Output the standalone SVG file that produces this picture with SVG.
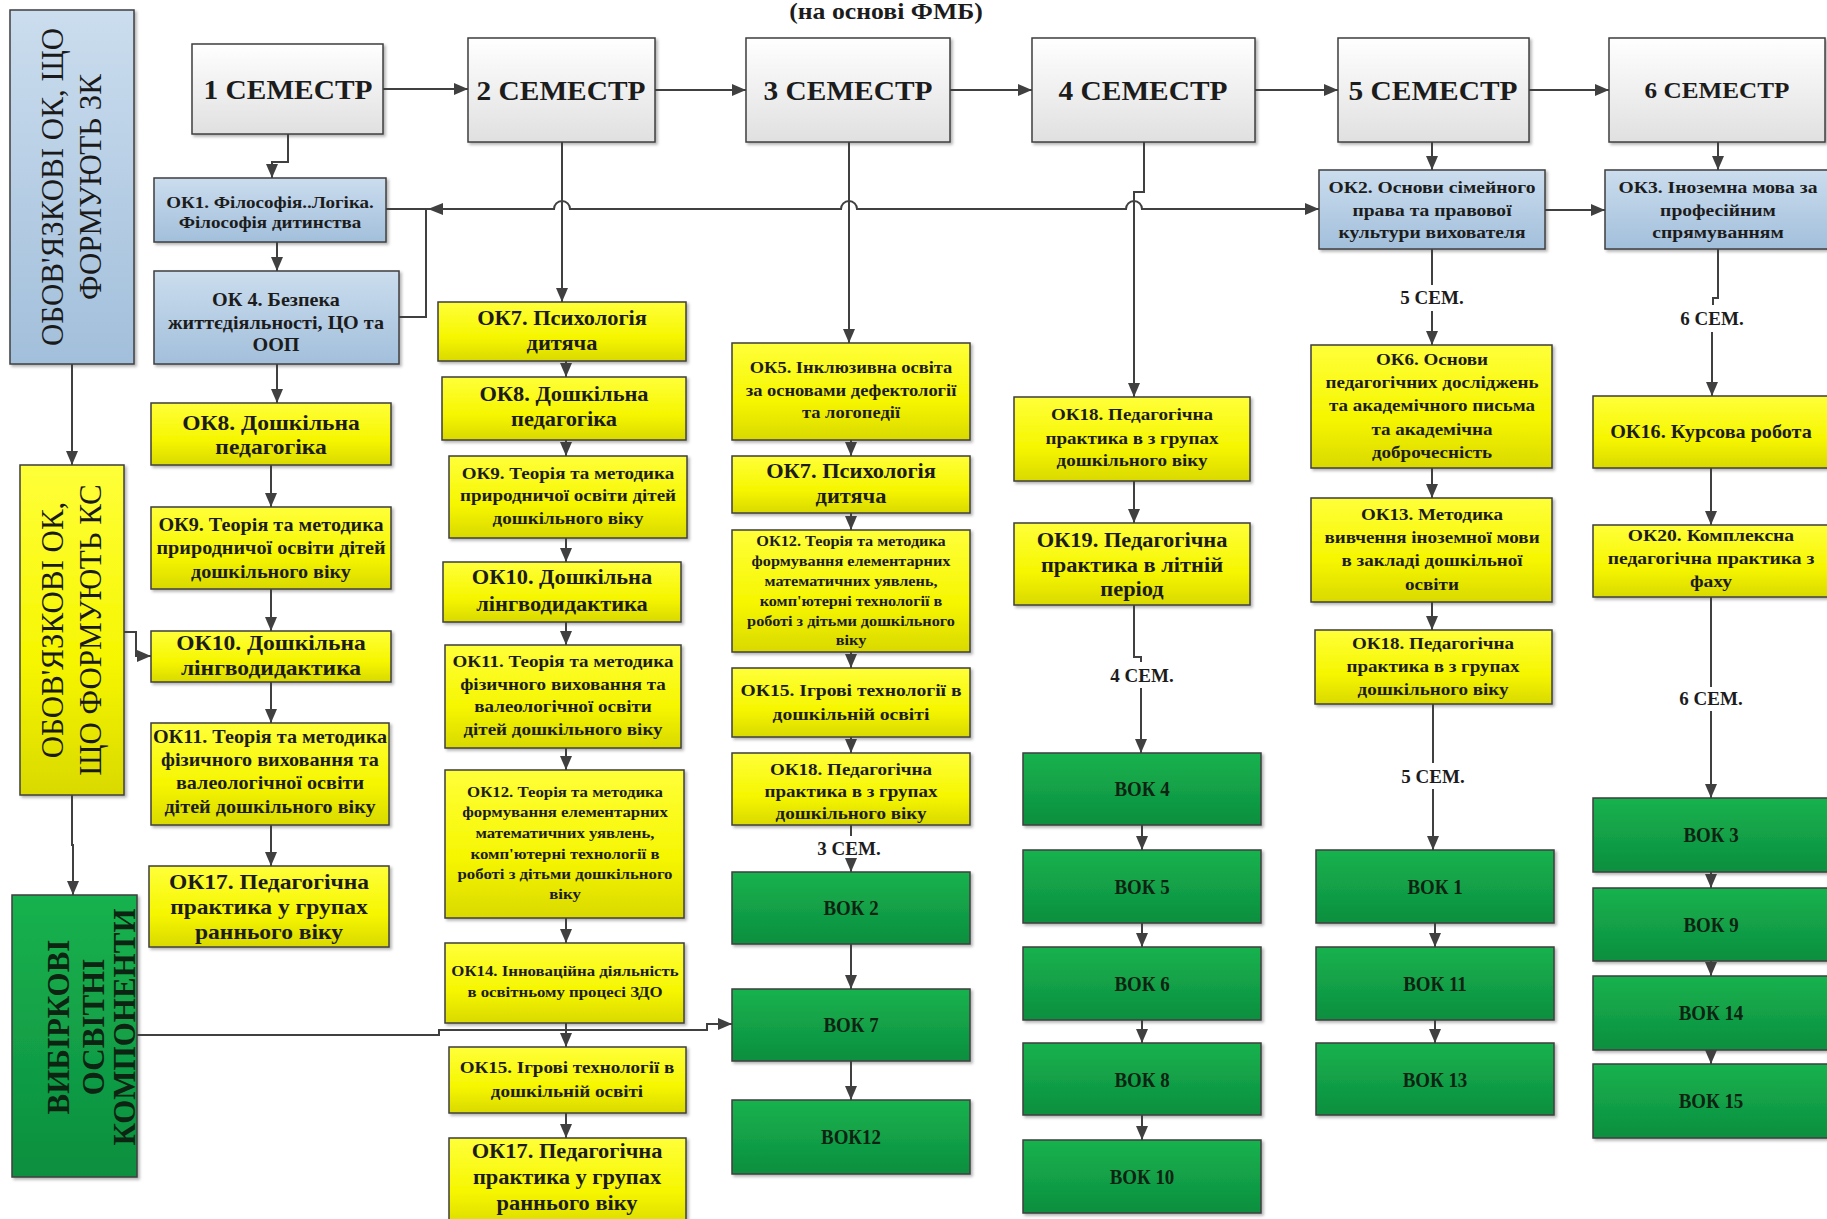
<svg xmlns="http://www.w3.org/2000/svg" width="1827" height="1219" viewBox="0 0 1827 1219">
<defs>
<linearGradient id="gSem" x1="0" y1="0" x2="0" y2="1"><stop offset="0" stop-color="#ffffff"/><stop offset="1" stop-color="#e0e0e0"/></linearGradient>
<linearGradient id="gBlue" x1="0" y1="0" x2="0" y2="1"><stop offset="0" stop-color="#cbddee"/><stop offset="1" stop-color="#a2bfdb"/></linearGradient>
<linearGradient id="gYel" x1="0" y1="0" x2="0" y2="1"><stop offset="0" stop-color="#ffff3a"/><stop offset="0.6" stop-color="#f6f600"/><stop offset="1" stop-color="#d9d900"/></linearGradient>
<linearGradient id="gGrn" x1="0" y1="0" x2="0" y2="1"><stop offset="0" stop-color="#18b24f"/><stop offset="1" stop-color="#0c8f3f"/></linearGradient>
<filter id="sh" x="-10%" y="-10%" width="130%" height="130%"><feDropShadow dx="2" dy="2" stdDeviation="1.5" flood-color="#000" flood-opacity="0.3"/></filter>
<marker id="ah" markerUnits="userSpaceOnUse" markerWidth="14" markerHeight="14" viewBox="0 0 14 14" refX="14" refY="7" orient="auto"><path d="M0,1 L14,7 L0,13 z" fill="#404040"/></marker>
</defs>
<style>
.box{stroke:#3f3f3f;stroke-width:1.5;filter:url(#sh)}
.sem{fill:url(#gSem)}
.blue{fill:url(#gBlue)}
.yel{fill:url(#gYel)}
.grn{fill:url(#gGrn)}
text{font-family:"Liberation Serif","Times New Roman",serif;font-weight:bold;fill:#1c1c1c;text-anchor:middle}
.rot{font-weight:normal;font-size:31px;fill:#1a1a1a}
.gt{fill:#0d2412}
.lbl{font-size:19px}
.c{stroke:#404040;stroke-width:2;fill:none}
.a{marker-end:url(#ah)}
</style>
<rect width="1827" height="1219" fill="#ffffff"/>
<text x="0" y="19" font-size="23" transform="translate(886 0) scale(1.12 1)">(на основі ФМБ)</text>

<!-- tall category boxes -->
<g id="cat-zk"><rect class="box blue" x="10" y="10" width="124" height="354"/>
<text class="rot" transform="translate(72 187) rotate(-90)"><tspan x="0" y="-9">ОБОВ'ЯЗКОВІ ОК, ЩО</tspan><tspan x="0" y="29">ФОРМУЮТЬ ЗК</tspan></text></g>
<g id="cat-ks"><rect class="box yel" x="20" y="465" width="104" height="330"/>
<text class="rot" transform="translate(72 630) rotate(-90)"><tspan x="0" y="-9">ОБОВ'ЯЗКОВІ ОК,</tspan><tspan x="0" y="29">ЩО ФОРМУЮТЬ КС</tspan></text></g>
<g id="cat-vok"><rect class="box grn" x="12" y="895" width="125" height="282"/>
<text class="gt" font-size="31" transform="translate(74 1027) rotate(-90)"><tspan x="0" y="-5">ВИБІРКОВІ</tspan><tspan x="0" y="30">ОСВІТНІ</tspan><tspan x="0" y="61">КОМПОНЕНТИ</tspan></text></g>

<!-- semesters -->
<g id="s1"><rect class="box sem" x="192" y="44" width="191" height="90"/><text font-size="28" x="0" y="99" transform="translate(288 0) scale(1.05 1)">1 СЕМЕСТР</text></g>
<g id="s2"><rect class="box sem" x="468" y="38" width="187" height="104"/><text font-size="28" x="0" y="100" transform="translate(561 0) scale(1.05 1)">2 СЕМЕСТР</text></g>
<g id="s3"><rect class="box sem" x="746" y="38" width="204" height="104"/><text font-size="28" x="0" y="100" transform="translate(848 0) scale(1.05 1)">3 СЕМЕСТР</text></g>
<g id="s4"><rect class="box sem" x="1032" y="38" width="223" height="104"/><text font-size="28" x="0" y="100" transform="translate(1143 0) scale(1.05 1)">4 СЕМЕСТР</text></g>
<g id="s5"><rect class="box sem" x="1338" y="38" width="191" height="104"/><text font-size="28" x="0" y="100" transform="translate(1433 0) scale(1.05 1)">5 СЕМЕСТР</text></g>
<g id="s6"><rect class="box sem" x="1609" y="38" width="216" height="104"/><text font-size="24" x="0" y="98" transform="translate(1717 0) scale(1.05 1)">6 СЕМЕСТР</text></g>

<!-- blue OK -->
<g id="ok1"><rect class="box blue" x="154" y="178" width="232" height="64"/><text font-size="17" transform="translate(270 0) scale(1.12 1)"><tspan x="0" y="208">ОК1. Філософія..Логіка.</tspan><tspan x="0" y="228">Філософія дитинства</tspan></text></g>
<g id="ok4"><rect class="box blue" x="154" y="271" width="245" height="93"/><text font-size="18" transform="translate(276 0) scale(1.12 1)"><tspan x="0" y="306">ОК 4. Безпека</tspan><tspan x="0" y="329">життєдіяльності, ЦО та</tspan><tspan x="0" y="351">ООП</tspan></text></g>
<g id="ok2"><rect class="box blue" x="1319" y="170" width="226" height="79"/><text font-size="17.5" transform="translate(1432 0) scale(1.12 1)"><tspan x="0" y="193">ОК2. Основи сімейного</tspan><tspan x="0" y="216">права та правової</tspan><tspan x="0" y="238">культури вихователя</tspan></text></g>
<g id="ok3"><rect class="box blue" x="1605" y="170" width="230" height="79"/><text font-size="17.5" transform="translate(1718 0) scale(1.12 1)"><tspan x="0" y="193">ОК3. Іноземна мова за</tspan><tspan x="0" y="216">професійним</tspan><tspan x="0" y="238">спрямуванням</tspan></text></g>

<!-- column 1 -->
<g id="c1-ok8"><rect class="box yel" x="151" y="403" width="240" height="62"/><text font-size="21" transform="translate(271 0) scale(1.12 1)"><tspan x="0" y="430">ОК8. Дошкільна</tspan><tspan x="0" y="454">педагогіка</tspan></text></g>
<g id="c1-ok9"><rect class="box yel" x="151" y="507" width="240" height="82"/><text font-size="18" transform="translate(271 0) scale(1.12 1)"><tspan x="0" y="531">ОК9. Теорія та методика</tspan><tspan x="0" y="554">природничої освіти дітей</tspan><tspan x="0" y="578">дошкільного віку</tspan></text></g>
<g id="c1-ok10"><rect class="box yel" x="151" y="631" width="240" height="51"/><text font-size="21" transform="translate(271 0) scale(1.12 1)"><tspan x="0" y="650">ОК10. Дошкільна</tspan><tspan x="0" y="675">лінгводидактика</tspan></text></g>
<g id="c1-ok11"><rect class="box yel" x="151" y="723" width="238" height="102"/><text font-size="18" transform="translate(270 0) scale(1.12 1)"><tspan x="0" y="743">ОК11. Теорія та методика</tspan><tspan x="0" y="766">фізичного виховання та</tspan><tspan x="0" y="789">валеологічної освіти</tspan><tspan x="0" y="813">дітей дошкільного віку</tspan></text></g>
<g id="c1-ok17"><rect class="box yel" x="149" y="866" width="240" height="81"/><text font-size="21" transform="translate(269 0) scale(1.12 1)"><tspan x="0" y="889">ОК17. Педагогічна</tspan><tspan x="0" y="914">практика у групах</tspan><tspan x="0" y="939">раннього віку</tspan></text></g>

<!-- column 2 -->
<g id="c2-ok7"><rect class="box yel" x="438" y="302" width="248" height="59"/><text font-size="20" transform="translate(562 0) scale(1.12 1)"><tspan x="0" y="325">ОК7. Психологія</tspan><tspan x="0" y="350">дитяча</tspan></text></g>
<g id="c2-ok8"><rect class="box yel" x="442" y="377" width="244" height="63"/><text font-size="20" transform="translate(564 0) scale(1.12 1)"><tspan x="0" y="401">ОК8. Дошкільна</tspan><tspan x="0" y="426">педагогіка</tspan></text></g>
<g id="c2-ok9"><rect class="box yel" x="449" y="456" width="238" height="82"/><text font-size="17" transform="translate(568 0) scale(1.12 1)"><tspan x="0" y="479">ОК9. Теорія та методика</tspan><tspan x="0" y="501">природничої освіти дітей</tspan><tspan x="0" y="524">дошкільного віку</tspan></text></g>
<g id="c2-ok10"><rect class="box yel" x="443" y="562" width="238" height="60"/><text font-size="20" transform="translate(562 0) scale(1.12 1)"><tspan x="0" y="584">ОК10. Дошкільна</tspan><tspan x="0" y="611">лінгводидактика</tspan></text></g>
<g id="c2-ok11"><rect class="box yel" x="445" y="645" width="236" height="103"/><text font-size="17" transform="translate(563 0) scale(1.12 1)"><tspan x="0" y="667">ОК11. Теорія та методика</tspan><tspan x="0" y="690">фізичного виховання та</tspan><tspan x="0" y="712">валеологічної освіти</tspan><tspan x="0" y="735">дітей дошкільного віку</tspan></text></g>
<g id="c2-ok12"><rect class="box yel" x="445" y="770" width="239" height="148"/><text font-size="15" transform="translate(565 0) scale(1.12 1)"><tspan x="0" y="797">ОК12. Теорія та методика</tspan><tspan x="0" y="817">формування елементарних</tspan><tspan x="0" y="838">математичних уявлень,</tspan><tspan x="0" y="859">комп'ютерні технології  в</tspan><tspan x="0" y="879">роботі з дітьми дошкільного</tspan><tspan x="0" y="899">віку</tspan></text></g>
<g id="c2-ok14"><rect class="box yel" x="445" y="943" width="239" height="80"/><text font-size="15" transform="translate(565 0) scale(1.12 1)"><tspan x="0" y="976">ОК14. Інноваційна діяльність</tspan><tspan x="0" y="997">в освітньому процесі ЗДО</tspan></text></g>
<g id="c2-ok15"><rect class="box yel" x="449" y="1047" width="237" height="66"/><text font-size="17" transform="translate(567 0) scale(1.12 1)"><tspan x="0" y="1073">ОК15. Ігрові технології в</tspan><tspan x="0" y="1097">дошкільній освіті</tspan></text></g>
<g id="c2-ok17"><rect class="box yel" x="449" y="1138" width="237" height="90"/><text font-size="20" transform="translate(567 0) scale(1.12 1)"><tspan x="0" y="1158">ОК17. Педагогічна</tspan><tspan x="0" y="1184">практика у групах</tspan><tspan x="0" y="1210">раннього віку</tspan></text></g>

<!-- column 3 -->
<g id="c3-ok5"><rect class="box yel" x="732" y="343" width="238" height="97"/><text font-size="16.5" transform="translate(851 0) scale(1.12 1)"><tspan x="0" y="373">ОК5. Інклюзивна освіта</tspan><tspan x="0" y="396">за основами дефектології</tspan><tspan x="0" y="418">та логопедії</tspan></text></g>
<g id="c3-ok7"><rect class="box yel" x="732" y="456" width="238" height="57"/><text font-size="20" transform="translate(851 0) scale(1.12 1)"><tspan x="0" y="478">ОК7. Психологія</tspan><tspan x="0" y="503">дитяча</tspan></text></g>
<g id="c3-ok12"><rect class="box yel" x="732" y="530" width="238" height="122"/><text font-size="14.5" transform="translate(851 0) scale(1.12 1)"><tspan x="0" y="546">ОК12. Теорія та методика</tspan><tspan x="0" y="566">формування елементарних</tspan><tspan x="0" y="586">математичних уявлень,</tspan><tspan x="0" y="606">комп'ютерні технології  в</tspan><tspan x="0" y="626">роботі з дітьми дошкільного</tspan><tspan x="0" y="645">віку</tspan></text></g>
<g id="c3-ok15"><rect class="box yel" x="732" y="668" width="238" height="69"/><text font-size="17.5" transform="translate(851 0) scale(1.12 1)"><tspan x="0" y="696">ОК15. Ігрові технології в</tspan><tspan x="0" y="720">дошкільній освіті</tspan></text></g>
<g id="c3-ok18"><rect class="box yel" x="732" y="753" width="238" height="72"/><text font-size="17" transform="translate(851 0) scale(1.12 1)"><tspan x="0" y="775">ОК18. Педагогічна</tspan><tspan x="0" y="797">практика в з групах</tspan><tspan x="0" y="819">дошкільного віку</tspan></text></g>
<g id="c3-vok2"><rect class="box grn" x="732" y="872" width="238" height="72"/><text class="gt" font-size="21" x="0" y="915" transform="translate(851 0) scale(0.9 1)">ВОК 2</text></g>
<g id="c3-vok7"><rect class="box grn" x="732" y="989" width="238" height="72"/><text class="gt" font-size="21" x="0" y="1032" transform="translate(851 0) scale(0.9 1)">ВОК 7</text></g>
<g id="c3-vok12"><rect class="box grn" x="732" y="1100" width="238" height="74"/><text class="gt" font-size="21" x="0" y="1144" transform="translate(851 0) scale(0.9 1)">ВОК12</text></g>

<!-- column 4 -->
<g id="c4-ok18"><rect class="box yel" x="1014" y="397" width="236" height="84"/><text font-size="17" transform="translate(1132 0) scale(1.12 1)"><tspan x="0" y="420">ОК18. Педагогічна</tspan><tspan x="0" y="444">практика в з групах</tspan><tspan x="0" y="466">дошкільного віку</tspan></text></g>
<g id="c4-ok19"><rect class="box yel" x="1014" y="523" width="236" height="82"/><text font-size="20" transform="translate(1132 0) scale(1.12 1)"><tspan x="0" y="547">ОК19. Педагогічна</tspan><tspan x="0" y="572">практика в літній</tspan><tspan x="0" y="596">період</tspan></text></g>
<g id="c4-vok4"><rect class="box grn" x="1023" y="753" width="238" height="72"/><text class="gt" font-size="21" x="0" y="796" transform="translate(1142 0) scale(0.9 1)">ВОК 4</text></g>
<g id="c4-vok5"><rect class="box grn" x="1023" y="850" width="238" height="73"/><text class="gt" font-size="21" x="0" y="894" transform="translate(1142 0) scale(0.9 1)">ВОК 5</text></g>
<g id="c4-vok6"><rect class="box grn" x="1023" y="947" width="238" height="73"/><text class="gt" font-size="21" x="0" y="991" transform="translate(1142 0) scale(0.9 1)">ВОК 6</text></g>
<g id="c4-vok8"><rect class="box grn" x="1023" y="1043" width="238" height="72"/><text class="gt" font-size="21" x="0" y="1087" transform="translate(1142 0) scale(0.9 1)">ВОК 8</text></g>
<g id="c4-vok10"><rect class="box grn" x="1023" y="1140" width="238" height="73"/><text class="gt" font-size="21" x="0" y="1184" transform="translate(1142 0) scale(0.9 1)">ВОК 10</text></g>

<!-- column 5 -->
<g id="c5-ok6"><rect class="box yel" x="1311" y="345" width="241" height="123"/><text font-size="17" transform="translate(1432 0) scale(1.12 1)"><tspan x="0" y="365">ОК6. Основи</tspan><tspan x="0" y="388">педагогічних досліджень</tspan><tspan x="0" y="411">та академічного письма</tspan><tspan x="0" y="435">та академічна</tspan><tspan x="0" y="458">доброчесність</tspan></text></g>
<g id="c5-ok13"><rect class="box yel" x="1311" y="498" width="241" height="104"/><text font-size="17" transform="translate(1432 0) scale(1.12 1)"><tspan x="0" y="520">ОК13. Методика</tspan><tspan x="0" y="543">вивчення іноземної мови</tspan><tspan x="0" y="566">в закладі дошкільної</tspan><tspan x="0" y="590">освіти</tspan></text></g>
<g id="c5-ok18"><rect class="box yel" x="1315" y="630" width="237" height="74"/><text font-size="17" transform="translate(1433 0) scale(1.12 1)"><tspan x="0" y="649">ОК18. Педагогічна</tspan><tspan x="0" y="672">практика в з групах</tspan><tspan x="0" y="695">дошкільного віку</tspan></text></g>
<g id="c5-vok1"><rect class="box grn" x="1316" y="850" width="238" height="73"/><text class="gt" font-size="21" x="0" y="894" transform="translate(1435 0) scale(0.9 1)">ВОК 1</text></g>
<g id="c5-vok11"><rect class="box grn" x="1316" y="947" width="238" height="73"/><text class="gt" font-size="21" x="0" y="991" transform="translate(1435 0) scale(0.9 1)">ВОК 11</text></g>
<g id="c5-vok13"><rect class="box grn" x="1316" y="1043" width="238" height="72"/><text class="gt" font-size="21" x="0" y="1087" transform="translate(1435 0) scale(0.9 1)">ВОК 13</text></g>

<!-- column 6 -->
<g id="c6-ok16"><rect class="box yel" x="1593" y="396" width="240" height="72"/><text font-size="18" x="0" y="438" transform="translate(1711 0) scale(1.12 1)">ОК16. Курсова робота</text></g>
<g id="c6-ok20"><rect class="box yel" x="1593" y="525" width="240" height="72"/><text font-size="17.5" transform="translate(1711 0) scale(1.12 1)"><tspan x="0" y="541">ОК20. Комплексна</tspan><tspan x="0" y="564">педагогічна практика з</tspan><tspan x="0" y="587">фаху</tspan></text></g>
<g id="c6-vok3"><rect class="box grn" x="1593" y="798" width="240" height="74"/><text class="gt" font-size="21" x="0" y="842" transform="translate(1711 0) scale(0.9 1)">ВОК 3</text></g>
<g id="c6-vok9"><rect class="box grn" x="1593" y="888" width="240" height="73"/><text class="gt" font-size="21" x="0" y="932" transform="translate(1711 0) scale(0.9 1)">ВОК 9</text></g>
<g id="c6-vok14"><rect class="box grn" x="1593" y="976" width="240" height="74"/><text class="gt" font-size="21" x="0" y="1020" transform="translate(1711 0) scale(0.9 1)">ВОК 14</text></g>
<g id="c6-vok15"><rect class="box grn" x="1593" y="1064" width="240" height="74"/><text class="gt" font-size="21" x="0" y="1108" transform="translate(1711 0) scale(0.9 1)">ВОК 15</text></g>

<!-- connectors -->
<g id="connectors">
<path class="c a" d="M383,89 H468"/>
<path class="c a" d="M655,90 H746"/>
<path class="c a" d="M950,90 H1032"/>
<path class="c a" d="M1255,90 H1338"/>
<path class="c a" d="M1529,90 H1609"/>
<path class="c a" d="M288,134 V162 H272 V178"/>
<path class="c a" d="M277,242 V271"/>
<path class="c a" d="M277,364 V403"/>
<path class="c a" d="M271,465 V507"/>
<path class="c a" d="M271,589 V631"/>
<path class="c a" d="M271,682 V723"/>
<path class="c a" d="M271,825 V866"/>
<path class="c a" d="M386,209 H554 a8,8 0 0 1 16,0 H841 a8,8 0 0 1 16,0 H1126 a8,8 0 0 1 16,0 H1319"/>
<path class="c" d="M399,317 H426 V209"/>
<polygon points="428,209 443,203 443,215" fill="#404040"/>
<path class="c a" d="M1545,210 H1605"/>
<path class="c a" d="M562,142 V302"/>
<path class="c a" d="M566,361 V377"/>
<path class="c a" d="M566,440 V456"/>
<path class="c a" d="M566,538 V562"/>
<path class="c a" d="M566,622 V645"/>
<path class="c a" d="M566,748 V770"/>
<path class="c a" d="M566,918 V943"/>
<path class="c a" d="M566,1023 V1047"/>
<path class="c a" d="M566,1113 V1138"/>
<path class="c a" d="M849,142 V343"/>
<path class="c a" d="M851,440 V456"/>
<path class="c a" d="M851,513 V530"/>
<path class="c a" d="M851,652 V668"/>
<path class="c a" d="M851,737 V753"/>
<path class="c" d="M851,825 V836"/>
<path class="c a" d="M851,858 V872"/>
<path class="c a" d="M851,944 V989"/>
<path class="c a" d="M851,1061 V1100"/>
<path class="c a" d="M1144,142 V192 H1134 V397"/>
<path class="c a" d="M1134,481 V523"/>
<path class="c" d="M1134,605 V657 H1141 V662"/>
<path class="c a" d="M1141,688 V753"/>
<path class="c a" d="M1142,825 V850"/>
<path class="c a" d="M1142,923 V947"/>
<path class="c a" d="M1142,1020 V1043"/>
<path class="c a" d="M1142,1115 V1140"/>
<path class="c a" d="M1432,142 V170"/>
<path class="c" d="M1432,249 V285"/>
<path class="c a" d="M1432,311 V345"/>
<path class="c a" d="M1432,468 V498"/>
<path class="c a" d="M1432,602 V630"/>
<path class="c" d="M1433,704 V763"/>
<path class="c a" d="M1433,789 V850"/>
<path class="c a" d="M1435,923 V947"/>
<path class="c a" d="M1435,1020 V1043"/>
<path class="c a" d="M1718,142 V170"/>
<path class="c" d="M1718,249 V298 H1713 V305"/>
<path class="c a" d="M1712,332 V396"/>
<path class="c a" d="M1711,468 V525"/>
<path class="c" d="M1711,597 V687"/>
<path class="c a" d="M1711,711 V798"/>
<path class="c a" d="M1711,872 V888"/>
<path class="c a" d="M1711,961 V976"/>
<path class="c a" d="M1711,1050 V1064"/>
<path class="c a" d="M72,364 V465"/>
<path class="c a" d="M72,795 V845 H73 V895"/>
<path class="c a" d="M124,632 H136 V656 H151"/>
<path class="c a" d="M137,1035 H439 V1030 H707 V1024 H732"/>
<text class="lbl" x="849" y="855">3 СЕМ.</text>
<text class="lbl" x="1142" y="682">4 СЕМ.</text>
<text class="lbl" x="1432" y="304">5 СЕМ.</text>
<text class="lbl" x="1433" y="783">5 СЕМ.</text>
<text class="lbl" x="1712" y="325">6 СЕМ.</text>
<text class="lbl" x="1711" y="705">6 СЕМ.</text>
</g>
</svg>
